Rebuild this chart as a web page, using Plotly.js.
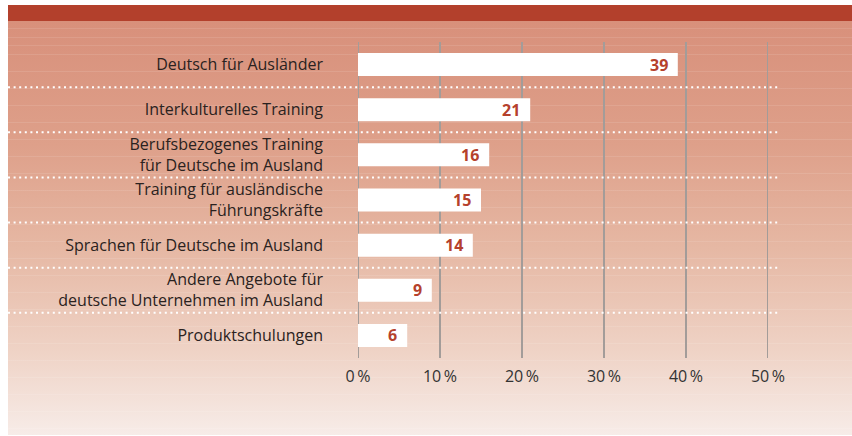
<!DOCTYPE html>
<html>
<head>
<meta charset="utf-8">
<script src="https://cdn.plot.ly/plotly-3.0.1.min.js"></script>
<style>
html, body { margin: 0; padding: 0; background: #ffffff; }
#wrap { position: relative; width: 852px; height: 436px; overflow: hidden; }
#topbar { position: absolute; left: 8px; top: 5px; width: 844px; height: 16px; background: #b3402c; }
#bg { position: absolute; left: 8px; top: 21px; width: 844px; height: 414px;
  background:
    repeating-linear-gradient(180deg, rgba(255,255,255,0) 0px, rgba(255,255,255,0) 7.5px, rgba(255,255,255,0.10) 7.5px, rgba(255,255,255,0.10) 8.5px),
    linear-gradient(180deg, #d8907b 0%, #dea08a 30%, #e6b8a4 55%, #efd3c6 80%, #f7ece8 100%); }
#chart { position: absolute; left: 0; top: 0; width: 852px; height: 436px; }
</style>
</head>
<body>
<div id="wrap">
  <div id="topbar"></div>
  <div id="bg"></div>
  <div id="chart"></div>
</div>
<script>
const categories = [
  "Deutsch für Ausländer",
  "Interkulturelles Training",
  "Berufsbezogenes Training<br>für Deutsche im Ausland",
  "Training für ausländische<br>Führungskräfte",
  "Sprachen für Deutsche im Ausland",
  "Andere Angebote für<br>deutsche Unternehmen im Ausland",
  "Produktschulungen"
];
const values = [39, 21, 16, 15, 14, 9, 6];
const tickVals = [0, 10, 20, 30, 40, 50];
const tickText = ["0\u2009%", "10\u2009%", "20\u2009%", "30\u2009%", "40\u2009%", "50\u2009%"];

const idx = categories.map((c, i) => i);

const trace = {
  type: "bar",
  orientation: "h",
  x: values,
  y: idx,
  width: 0.51,
  marker: { color: "#ffffff", line: { width: 0 } },
  hoverinfo: "skip"
};

// value labels at the inner end of each bar
const valueLabels = values.map((v, i) => ({
  x: v, y: i, xref: "x", yref: "y",
  text: "<b>" + v + "</b>",
  showarrow: false,
  xanchor: "right", yanchor: "middle",
  xshift: -8,
  font: { family: "Open Sans, sans-serif", size: 16, color: "#b5412c" }
}));

// vertical gridlines
const grids = tickVals.map(t => ({
  type: "line", xref: "x", yref: "paper",
  x0: t, x1: t, y0: 0, y1: 1,
  line: { color: "#a39c99", width: 2 },
  layer: "below"
}));

// dotted separators between categories
const seps = [];
for (let i = 0; i < categories.length - 1; i++) {
  seps.push({
    type: "line", xref: "paper", yref: "y",
    x0: (8 - 358) / 410, x1: (778 - 358) / 410,
    y0: i + 0.5, y1: i + 0.5,
    line: { color: "#ffffff", width: 2, dash: "2px,3.6px" },
    layer: "below"
  });
}

const layout = {
  width: 852, height: 436,
  margin: { l: 358, r: 84, t: 42, b: 78, pad: 0 },
  paper_bgcolor: "rgba(0,0,0,0)",
  plot_bgcolor: "rgba(0,0,0,0)",
  showlegend: false,
  font: { family: "Open Sans, sans-serif", color: "#2a2220" },
  xaxis: {
    range: [0, 50],
    tickvals: tickVals,
    ticktext: tickText,
    showgrid: false,
    zeroline: false,
    showline: false,
    ticks: "",
    tickfont: { size: 16, color: "#333333" },
    ticklabelstandoff: 7,
    fixedrange: true
  },
  yaxis: {
    range: [6.5, -0.5],
    tickvals: idx,
    ticktext: categories,
    showgrid: false,
    zeroline: false,
    showline: false,
    ticks: "",
    tickfont: { size: 16, color: "#2a2220" },
    ticklabelstandoff: 34,
    fixedrange: true
  },
  shapes: grids.concat(seps),
  annotations: valueLabels
};

Plotly.newPlot("chart", [trace], layout, { displayModeBar: false, staticPlot: true });
</script>
</body>
</html>
